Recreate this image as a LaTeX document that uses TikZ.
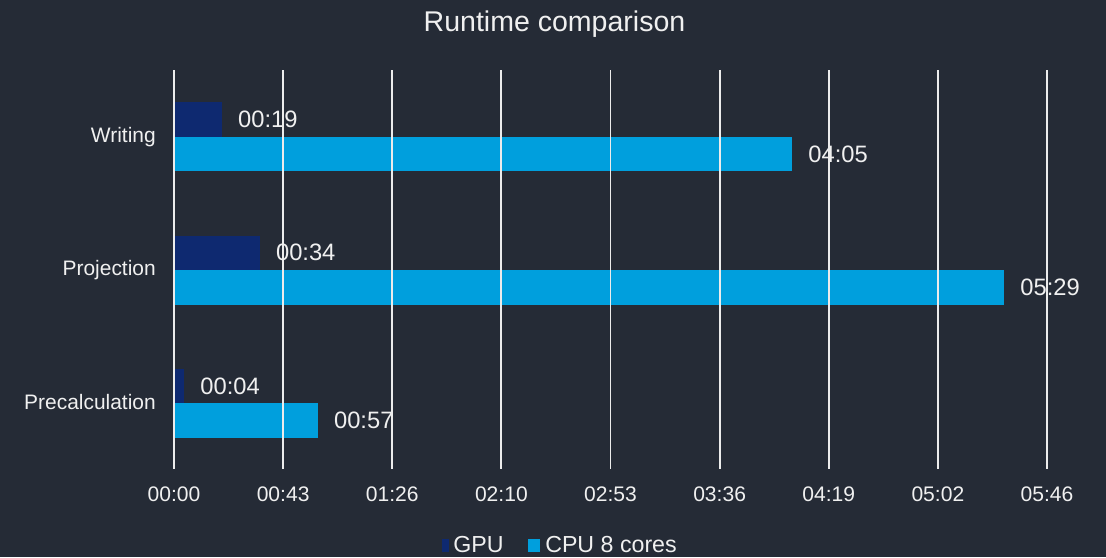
\documentclass[tikz,border=0pt]{standalone}
\usepackage{fontspec}
\setmainfont{Liberation Sans}
\definecolor{chartbg}{RGB}{37,43,54}
\definecolor{gpublue}{RGB}{14,41,112}
\definecolor{cpublue}{RGB}{0,159,221}
\definecolor{gridwhite}{RGB}{236,236,236}
\definecolor{labelgray}{RGB}{240,240,240}
\newcommand{\secpx}{2.5231}
\begin{document}
\begin{tikzpicture}[x=0.75pt,y=-0.75pt,
    gpubar/.style={fill=gpublue},
    cpubar/.style={fill=cpublue},
    gridline/.style={draw=gridwhite,line width=1.4pt},
    vallabel/.style={anchor=west,inner sep=0pt,text=labelgray,font=\fontsize{17.8}{20}\selectfont},
    catlabel/.style={anchor=base east,inner sep=0pt,text=labelgray,font=\fontsize{15.7}{18}\selectfont},
    ticklabel/.style={inner sep=0pt,text=labelgray,font=\fontsize{15.8}{18}\selectfont},
    legtext/.style={anchor=base west,inner sep=0pt,text=labelgray,font=\fontsize{17.4}{20}\selectfont}]
  % background and page size
  \fill[chartbg] (0,0) rectangle (1106,557);
  \useasboundingbox (0,0) rectangle (1106,557);
  \node[anchor=base,inner sep=0pt,text=labelgray,font=\fontsize{21.4}{24}\selectfont] (title) at (554.5,31) {Runtime comparison};
  % bars, categories and values
  \foreach \key/\cat/\yc/\gpu/\cpu/\gtxt/\ctxt in {
      writing/Writing/136.7/19/245/00:19/04:05,
      projection/Projection/270/34/329/00:34/05:29,
      precalc/Precalculation/403.3/4/57/00:04/00:57}{
    \pgfmathsetmacro\gend{174+\gpu*\secpx}
    \pgfmathsetmacro\cend{174+\cpu*\secpx}
    \fill[gpubar] (174,\yc-34.5) rectangle (\gend,\yc);
    \fill[cpubar] (174,\yc) rectangle (\cend,\yc+34.5);
    \node[vallabel] (\key-gpu) at (\gend+16,\yc-17.25) {\gtxt};
    \node[vallabel] (\key-cpu) at (\cend+16,\yc+17.25) {\ctxt};
    \node[catlabel] (\key) at (156,\yc+5.8) {\cat};
  }
  % grid and axis
  \foreach \i/\t in {0/00:00,1/00:43,2/01:26,3/02:10,4/02:53,5/03:36,6/04:19,7/05:02,8/05:46}{
    \draw[gridline] (174+\i*109.125,70) -- (174+\i*109.125,469);
    \node[ticklabel] (tick\i) at (174+\i*109.125,494.5) {\t};
  }
  % legend
  \fill[gpubar] (442,539) rectangle (449,552);
  \node[legtext] (leg-gpu) at (453,552) {GPU};
  \fill[cpubar] (528,539) rectangle (540,552);
  \node[legtext] (leg-cpu) at (545,552) {CPU 8 cores};
\end{tikzpicture}
\end{document}
